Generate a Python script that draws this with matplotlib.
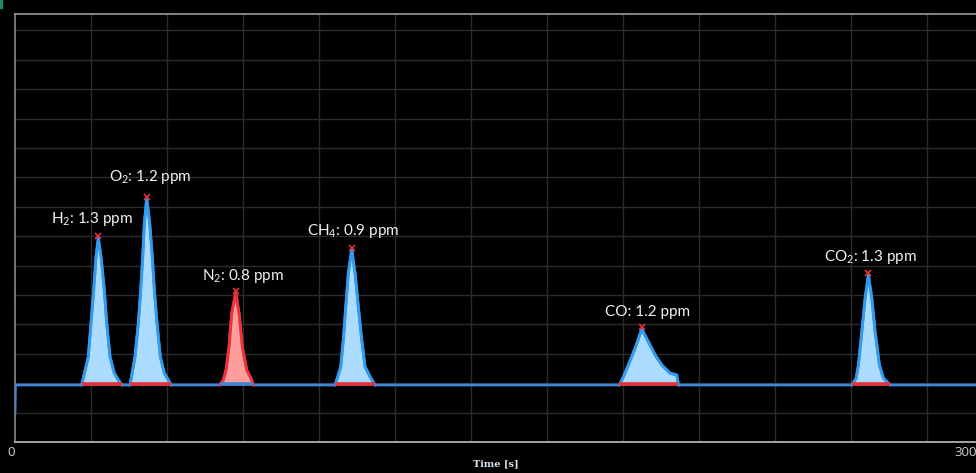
import matplotlib
matplotlib.use('Agg')
import matplotlib.pyplot as plt
from matplotlib.patches import Rectangle

# ============================================================
# DATA (time [s], signal [grid units])
# ============================================================
BASELINE = 1.94
T_START = [0.0, 0.15]
Y_START = [0.99, BASELINE]
T_END = 303.4

PEAK_NAMES = ['H2', 'O2', 'N2', 'CH4', 'CO', 'CO2']
PEAK_LABELS = ['H$_2$: 1.3 ppm', 'O$_2$: 1.2 ppm', 'N$_2$: 0.8 ppm',
               'CH$_4$: 0.9 ppm', 'CO: 1.2 ppm', 'CO$_2$: 1.3 ppm']
LABEL_T = [24.3, 42.6, 72.0, 106.7, 199.6, 270.0]
LABEL_Y = [7.59, 9.01, 5.65, 7.18, 4.42, 6.29]

h2_t = [21.06, 23.14, 24.00, 24.85, 25.58, 26.30, 27.15, 28.20, 28.95, 30.00, 31.35, 32.62, 33.69]
h2_y = [1.94, 2.90, 4.04, 5.17, 6.30, 6.95, 6.30, 5.17, 4.04, 2.90, 2.34, 2.11, 1.94]

o2_t = [36.31, 37.89, 38.93, 39.69, 40.32, 40.83, 41.59, 42.53, 43.35, 43.99, 44.84, 45.88, 47.14, 48.41, 49.26]
o2_y = [1.94, 2.90, 4.04, 5.17, 6.30, 7.44, 8.29, 7.44, 6.30, 5.17, 4.04, 2.90, 2.34, 2.11, 1.94]

n2_t = [64.73, 65.77, 66.62, 67.57, 68.42, 69.69, 70.73, 71.77, 73.16, 74.74, 75.15]
n2_y = [1.94, 2.11, 2.45, 3.24, 4.38, 5.08, 4.38, 3.24, 2.45, 2.11, 1.94]

ch4_t = [101.04, 101.89, 102.84, 103.66, 104.42, 105.24, 106.32, 107.36, 108.40, 109.47, 110.51, 112.09, 113.67]
ch4_y = [1.94, 2.22, 2.56, 3.47, 4.60, 5.74, 6.55, 5.74, 4.60, 3.47, 2.56, 2.22, 1.94]

co_t = [190.81, 191.88, 193.65, 195.77, 197.88, 199.97, 202.08, 204.20, 206.82, 208.94, 209.44]
co_y = [1.94, 2.17, 2.62, 3.19, 3.84, 3.41, 2.96, 2.62, 2.34, 2.28, 1.94]

co2_t = [264.19, 265.55, 266.28, 267.35, 268.39, 269.43, 270.51, 271.55, 272.91, 274.17, 276.29]
co2_y = [1.94, 2.17, 2.62, 3.75, 4.89, 5.68, 4.89, 3.75, 2.62, 2.17, 1.94]

PEAKS_T = [h2_t, o2_t, n2_t, ch4_t, co_t, co2_t]
PEAKS_Y = [h2_y, o2_y, n2_y, ch4_y, co_y, co2_y]
PEAK_IS_RED = [False, False, True, False, False, False]

# ============================================================
# STYLE
# ============================================================
BG = '#000000'
GRID = '#2c2c2c'
TRACE = '#3f86d8'
PEAK_EDGE = '#2e9cf2'
PEAK_FILL = '#abdcff'
RED_EDGE = '#ff2b2b'
RED_FILL = '#ff9c9c'
MARK = '#e8303a'

plt.rcParams['mathtext.fontset'] = 'custom'
plt.rcParams['mathtext.rm'] = 'Lato'
plt.rcParams['mathtext.it'] = 'Lato:italic'

# ============================================================
# FIGURE
# ============================================================
fig = plt.figure(figsize=(9.76, 4.73), dpi=100, facecolor=BG)
ax = fig.add_axes([15 / 976, 31 / 473, 961 / 976, 428 / 473])
ax.set_facecolor(BG)

ax.set_xlim(0, T_END)
ax.set_ylim(0, 14.56)

# grid: every 24 s horizontally, every unit vertically
ax.set_xticks(range(0, 300, 24), minor=True)
ax.set_yticks(range(1, 15), minor=True)
ax.set_xticks([0, 300])
ax.set_xticklabels(['0', '300'])
ax.set_yticks([])
ax.grid(True, which='minor', color=GRID, lw=1.0)
ax.tick_params(which='both', length=0)
ax.tick_params(axis='x', colors='#cfcfcf', labelsize=9.5, pad=3)
for lab in ax.get_xticklabels():
    lab.set_fontfamily('Open Sans')
ax.get_xticklabels()[0].set_horizontalalignment('right')

ax.spines['right'].set_visible(False)
ax.spines['top'].set_color('#9a9a9a')
ax.spines['left'].set_color('#8a8a8a')
ax.spines['bottom'].set_color('#a5a5a5')
ax.spines['bottom'].set_linewidth(1.4)
ax.spines['left'].set_linewidth(1.2)
ax.spines['top'].set_linewidth(1.2)

# ============================================================
# TRACE
# ============================================================
full_t = list(T_START)
full_y = list(Y_START)
for pt, py in zip(PEAKS_T, PEAKS_Y):
    full_t += pt
    full_y += py
full_t.append(T_END)
full_y.append(BASELINE)
ax.plot(full_t, full_y, color=TRACE, lw=2.0, zorder=3, solid_joinstyle='round')

for pt, py, red, lab, lt, ly in zip(PEAKS_T, PEAKS_Y, PEAK_IS_RED, PEAK_LABELS, LABEL_T, LABEL_Y):
    fill = RED_FILL if red else PEAK_FILL
    edge = RED_EDGE if red else PEAK_EDGE
    ax.fill_between(pt, BASELINE, py, color=fill, lw=0, zorder=2)
    ax.plot(pt, py, color=edge, lw=2.0, zorder=4, solid_joinstyle='round')
    # integration baseline
    base_col = TRACE if red else MARK
    ax.plot([pt[0], pt[-1]], [BASELINE + 0.04, BASELINE + 0.04], color=base_col,
            lw=2.6, zorder=5, solid_capstyle='butt')
    # apex marker
    i_top = py.index(max(py))
    ax.plot(pt[i_top], py[i_top] + 0.06, marker='x', color=MARK, ms=4, mew=1.2, zorder=6)
    ax.text(lt, ly, lab, color='#f2f2f2', fontsize=11, family='Lato',
            ha='center', va='center', zorder=7)

ax.set_xlabel('Time [s]', color='#dbe6f2', fontsize=7, fontweight='bold',
              family='DejaVu Serif', labelpad=0)

# small green mark in the top left corner
fig.patches.append(Rectangle((0, 465 / 473), 2 / 976, 8 / 473, transform=fig.transFigure,
                             color='#1f8f62', zorder=10))

fig.savefig('out.png', dpi=100, facecolor=BG)
